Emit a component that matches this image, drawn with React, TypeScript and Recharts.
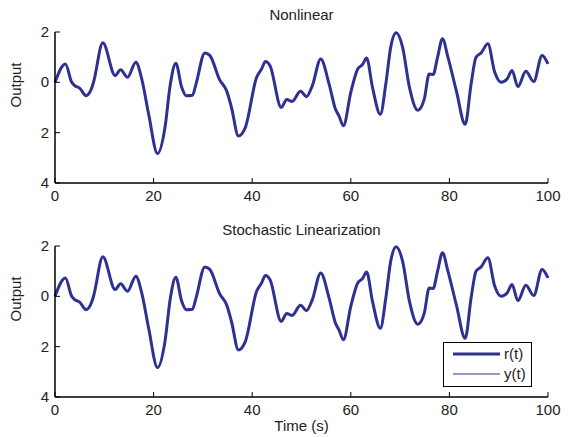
import { Line, LineChart, XAxis, YAxis } from 'recharts';

const times = [
  0, 2.1, 3.4, 4, 5, 6.3, 7.5, 7.9, 9.7, 12.2, 13.3, 14.7, 16.4, 17.6, 19, 20.8, 22.3, 23.4, 24.5,
  25.7, 26.6, 27.9, 28.6, 30.4, 31.4, 33.4, 34.8, 35.8, 37.2, 38.6, 40.9, 41.9, 42.7, 43.6, 45.9,
  47, 48.1, 49.8, 51, 52.2, 53.9, 55.6, 56.9, 57.6, 58.5, 60, 61.4, 62.4, 63.2, 64.4, 66, 67.1,
  68.1, 69.2, 70.5, 71.9, 73.6, 74.9, 75.9, 76.7, 77.6, 78.6, 79.7, 81.4, 83.2, 84.4, 85.4, 86.4,
  87.8, 89.2, 90.5, 91.7, 92.7, 93.9, 95.5, 97.1, 98.8, 100,
];

const refValues = [
  0, 0.73, 0, -0.13, -0.23, -0.53, -0.2, 0.07, 1.57, 0.27, 0.5, 0.2, 0.8, 0.13, -1.27, -2.83, -1.8,
  -0.07, 0.76, -0.2, -0.53, -0.51, -0.07, 1.17, 1.07, 0.1, -0.33, -1.0, -2.13, -1.8, 0.2, 0.53,
  0.83, 0.67, -1.0, -0.68, -0.76, -0.35, -0.57, -0.13, 0.93, -0.07, -1.07, -1.33, -1.73, -0.4,
  0.53, 0.71, 0.97, -0.2, -1.27, -0.07, 1.4, 1.97, 1.4, -0.2, -1.11, -0.67, 0.33, 0.31, 1.0, 1.73,
  1.0, -0.33, -1.67, -0.07, 1.0, 1.16, 1.53, 0.4, 0, 0.13, 0.47, -0.17, 0.44, 0.03, 1.07, 0.73,
];

const outValues = refValues.slice();

const xTicks = [0, 20, 40, 60, 80, 100];
const yTicks = [-4, -2, 0, 2];

const data = times.map((t, i) => ({ t, r: refValues[i], y: outValues[i] }));

const BLUE = '#2e3192';
const FONT = '"Liberation Sans", Arial, sans-serif';
const FS = 15;

const BottomTick = (props: any) => {
  const { x, y, payload } = props;
  return (
    <g>
      <line x1={x} y1={y} x2={x} y2={y - 5} stroke="#000" />
      <text x={x} y={y + 18} textAnchor="middle" fontSize={FS} fill="#222" fontFamily={FONT}>
        {payload.value}
      </text>
    </g>
  );
};

const TopTick = (props: any) => {
  const { x, y } = props;
  return <line x1={x} y1={y} x2={x} y2={y + 5} stroke="#000" />;
};

const LeftTick = (props: any) => {
  const { x, y, payload } = props;
  return (
    <g>
      <line x1={x} y1={y} x2={x + 5} y2={y} stroke="#000" />
      <text x={x - 6} y={y + 5} textAnchor="end" fontSize={FS} fill="#222" fontFamily={FONT}>
        {Math.abs(payload.value)}
      </text>
    </g>
  );
};

const RightTick = (props: any) => {
  const { x, y } = props;
  return <line x1={x} y1={y} x2={x - 5} y2={y} stroke="#000" />;
};

const LegendBox = () => (
  <div
    style={{
      position: 'absolute',
      left: 443,
      top: 342,
      width: 89,
      height: 45,
      border: '1.5px solid #000',
      background: '#fff',
      boxSizing: 'border-box',
    }}
  >
    <svg width={86} height={42} style={{ display: 'block' }}>
      <line x1={9} y1={11} x2={56} y2={11} stroke={BLUE} strokeWidth={3} />
      <text x={60} y={16} fontSize={FS} fill="#222" fontFamily={FONT}>r(t)</text>
      <line x1={9} y1={31} x2={56} y2={31} stroke={BLUE} strokeWidth={1.2} />
      <text x={60} y={36} fontSize={FS} fill="#222" fontFamily={FONT}>y(t)</text>
    </svg>
  </div>
);

function Panel({ top, height, margin }: any) {
  return (
    <div style={{ position: 'absolute', left: 0, top }}>
      <LineChart width={569} height={height} data={data} margin={margin}>
        <XAxis
          dataKey="t"
          type="number"
          domain={[0, 100]}
          ticks={xTicks}
          tick={<BottomTick />}
          tickSize={0}
          tickMargin={0}
          height={20}
          stroke="#000"
          strokeWidth={1.5}
          interval={0}
        />
        <XAxis
          xAxisId="top"
          orientation="top"
          dataKey="t"
          type="number"
          domain={[0, 100]}
          ticks={xTicks}
          tick={<TopTick />}
          tickSize={0}
          height={0}
          stroke="#000"
          strokeWidth={1.5}
          interval={0}
        />
        <YAxis
          type="number"
          domain={[-4, 2]}
          ticks={yTicks}
          tick={<LeftTick />}
          tickSize={0}
          tickMargin={0}
          width={55}
          stroke="#000"
          strokeWidth={1.5}
          interval={0}
          label={{ value: 'Output', angle: -90, position: 'insideLeft', offset: 16, fontSize: FS, fill: '#222', fontFamily: FONT }}
        />
        <YAxis
          yAxisId="right"
          orientation="right"
          type="number"
          domain={[-4, 2]}
          ticks={yTicks}
          tick={<RightTick />}
          tickSize={0}
          width={0}
          stroke="#000"
          strokeWidth={1.5}
          interval={0}
        />
        <Line
          type="monotone"
          dataKey="r"
          stroke={BLUE}
          strokeWidth={3}
          dot={false}
          isAnimationActive={false}
        />
        <Line
          type="monotone"
          dataKey="y"
          stroke={BLUE}
          strokeWidth={1}
          dot={false}
          isAnimationActive={false}
        />
      </LineChart>
    </div>
  );
}

const textStyle = (top: number): any => ({
  position: 'absolute',
  top,
  left: 55,
  width: 493,
  textAlign: 'center',
  fontFamily: FONT,
  fontSize: FS,
  lineHeight: '17px',
  color: '#222',
});

export default function App() {
  return (
    <div
      style={{
        position: 'fixed',
        left: 0,
        top: 0,
        width: 569,
        height: 437,
        background: '#fff',
      }}
    >
      <Panel top={0} height={215} margin={{ top: 32, right: 21, bottom: 12, left: 0 }} />
      <Panel top={215} height={222} margin={{ top: 31, right: 21, bottom: 20, left: 0 }} />
      <div style={textStyle(6)}>Nonlinear</div>
      <div style={textStyle(221)}>Stochastic Linearization</div>
      <div style={textStyle(417)}>Time (s)</div>
      <LegendBox />
    </div>
  );
}
